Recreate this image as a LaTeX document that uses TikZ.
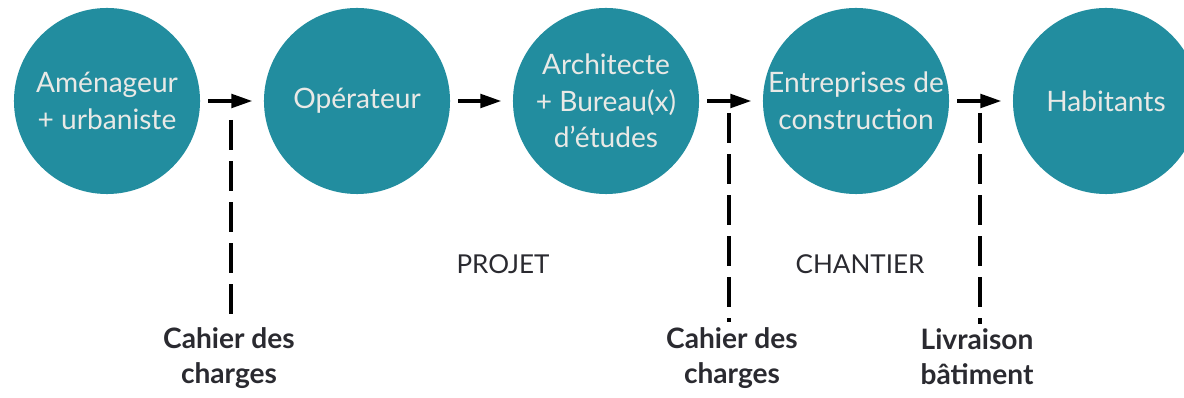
\documentclass[tikz,border=0pt]{standalone}
\usepackage{fontspec}
\setmainfont{Lato}
\usetikzlibrary{arrows.meta,positioning}
\definecolor{teal-main}{HTML}{228D9F}
\definecolor{label-dark}{HTML}{2A2A30}
\definecolor{circle-text}{HTML}{E9E9E6}

\begin{document}
\begin{tikzpicture}[x=0.025cm, y=-0.025cm,
      actor/.style={circle, fill=teal-main, minimum size=4.65cm,
          inner sep=0pt, align=center, text=circle-text,
          font=\fontsize{20}{26}\selectfont},
      flow/.style={-{Triangle[length=15pt,width=9.5pt]}, line width=2.8pt,
          shorten <=0.2cm, shorten >=0.28cm},
      milestone/.style={dash pattern=on 0.75cm off 0.275cm, line width=2.5pt},
      deliverable/.style={align=center, text=label-dark,
          font=\bfseries\fontsize{20}{25}\selectfont},
      phase/.style={text=label-dark, font=\fontsize{18.5}{22}\selectfont}]
    \useasboundingbox (0,0) rectangle (1184,398);
    \clip (0,0) rectangle (1184,398);

    % the five actors
    \node[actor] (amenageur)   at (107,101)  {Aménageur\\+ urbaniste};
    \node[actor] (operateur)   at (357,101)  {Opérateur};
    \node[actor] (architecte)  at (606,101)  {Architecte\\+ Bureau(x)\\d'études};
    \node[actor] (entreprises) at (856,101)  {Entreprises de\\construction};
    \node[actor] (habitants)   at (1106,101) {Habitants};

    \draw[flow] (amenageur)   -- (operateur);
    \draw[flow] (operateur)   -- (architecte);
    \draw[flow] (architecte)  -- (entreprises);
    \draw[flow] (entreprises) -- (habitants);

    % phases
    \node[phase] (projet)   at (503,264) {PROJET};
    \node[phase] (chantier) at (860,264) {CHANTIER};

    % documents handed over between actors
    \node[deliverable] (cdc1)      at (229,358) {Cahier des\\charges};
    \node[deliverable] (cdc2)      at (732,358) {Cahier des\\charges};
    \node[deliverable] (livraison) at (977,357) {Livraison\\bâtiment};

    \coordinate (cdc1top)      at (231,120);
    \coordinate (cdc2top)      at (729,113);
    \coordinate (livraisontop) at (980,113);

    \draw[milestone] (cdc1top)      -- (cdc1top |- cdc1.north);
    \draw[milestone] (cdc2top)      -- (cdc2top |- cdc2.north);
    \draw[milestone] (livraisontop) -- (livraisontop |- livraison.north);
  \end{tikzpicture}
\end{document}
